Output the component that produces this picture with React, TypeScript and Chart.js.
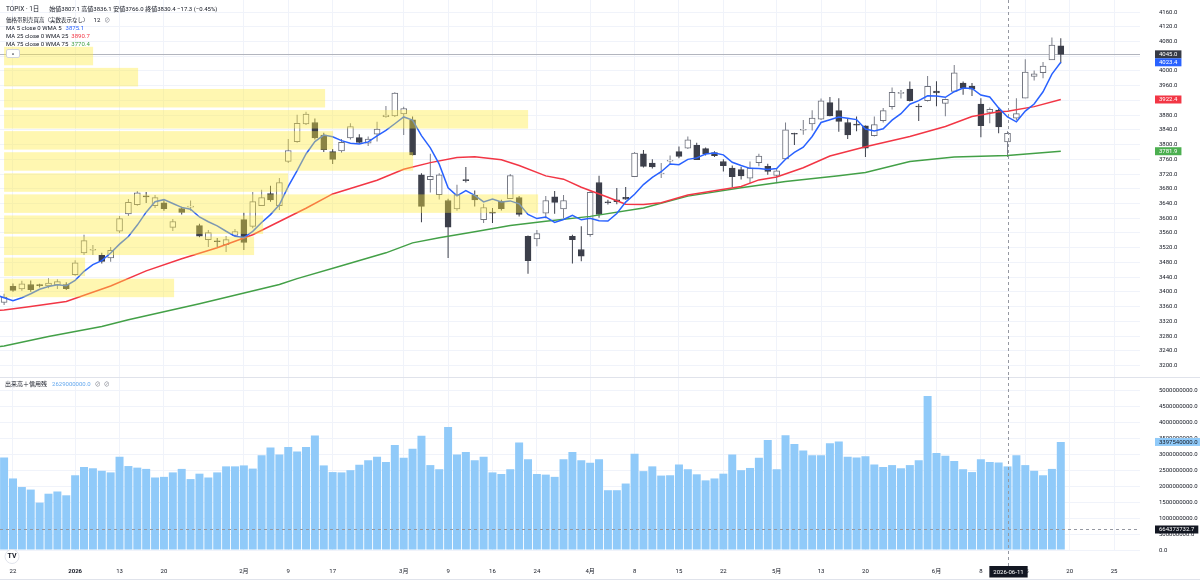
import React, { useEffect, useRef } from "react";
import { Chart, registerables } from "chart.js";

Chart.register(...registerables);

const FONT = 'Roboto, "Noto Sans CJK JP", "DejaVu Sans", sans-serif';
const TEXT = "#131722";
const GRID = "#f0f3fa";

// ---------- data ----------
const SYMBOL = "TOPIX";
const INTERVAL = "1日";

// closes of the five sessions before the first visible bar (for the MA 5)
const PRE_CLOSE = [3426, 3444, 3382, 3351, 3357];

const OPEN = [
  3371, 3415, 3408, 3420, 3418, 3416, 3419, 3420, 3447, 3506,
  3513, 3499, 3492, 3565, 3612, 3637, 3660, 3634, 3642, 3575,
  3626, 3630, 3580, 3542, 3538, 3528, 3553, 3596, 3578, 3634,
  3667, 3634, 3754, 3808, 3856, 3860, 3826, 3781, 3783, 3818,
  3819, 3804, 3828, 3876, 3878, 3883, 3867, 3718, 3705, 3664,
  3648, 3625, 3703, 3662, 3596, 3615, 3646, 3653, 3656, 3551,
  3544, 3614, 3658, 3625, 3551, 3515, 3555, 3697, 3644, 3650,
  3657, 3713, 3775, 3750, 3720, 3755, 3781, 3790, 3798, 3789,
  3778, 3754, 3736, 3732, 3709, 3751, 3741, 3716, 3761, 3830,
  3839, 3856, 3869, 3914, 3892, 3860, 3855, 3851, 3824, 3865,
  3903, 3939, 3951, 3904, 3919, 3945, 3912, 3944, 3967, 3959,
  3910, 3887, 3894, 3807.1, 3872, 3926, 3985, 3995, 4030, 4068,
];
const HIGH = [
  3395, 3423, 3430, 3431, 3422, 3437, 3434, 3426, 3486, 3555,
  3527, 3506, 3522, 3606, 3652, 3674, 3671, 3663, 3650, 3598,
  3631, 3648, 3585, 3568, 3546, 3552, 3571, 3615, 3671, 3677,
  3688, 3709, 3815, 3881, 3889, 3871, 3832, 3788, 3815, 3858,
  3828, 3822, 3862, 3905, 3942, 3903, 3876, 3722, 3775, 3722,
  3653, 3691, 3739, 3675, 3639, 3628, 3650, 3720, 3660, 3553,
  3568, 3660, 3674, 3663, 3555, 3578, 3673, 3715, 3650, 3682,
  3685, 3780, 3785, 3760, 3750, 3770, 3795, 3822, 3805, 3792,
  3782, 3760, 3743, 3740, 3754, 3775, 3748, 3736, 3860, 3832,
  3867, 3893, 3925, 3929, 3926, 3870, 3876, 3852, 3876, 3899,
  3955, 3948, 3971, 3911, 3986, 3972, 3925, 4016, 3971, 3967,
  3926, 3901, 3898, 3836.1, 3926, 4032, 4001, 4024, 4091, 4089,
];
const LOW = [
  3364, 3400, 3403, 3400, 3412, 3410, 3408, 3405, 3444, 3500,
  3500, 3477, 3482, 3560, 3606, 3634, 3641, 3628, 3620, 3565,
  3610, 3620, 3548, 3522, 3522, 3508, 3552, 3514, 3573, 3633,
  3645, 3622, 3750, 3805, 3853, 3814, 3780, 3747, 3778, 3814,
  3802, 3796, 3808, 3873, 3875, 3826, 3770, 3589, 3670, 3651,
  3492, 3620, 3697, 3632, 3587, 3587, 3621, 3653, 3605, 3449,
  3524, 3600, 3612, 3600, 3477, 3483, 3550, 3601, 3637, 3638,
  3650, 3712, 3738, 3735, 3709, 3746, 3763, 3788, 3758, 3770,
  3766, 3727, 3685, 3705, 3695, 3741, 3718, 3695, 3760, 3799,
  3827, 3838, 3867, 3877, 3835, 3815, 3836, 3766, 3822, 3860,
  3895, 3925, 3917, 3864, 3917, 3904, 3877, 3944, 3935, 3932,
  3820, 3858, 3831, 3766.0, 3867, 3926, 3974, 3980, 4030, 4021,
];
const CLOSE = [
  3386, 3404, 3422, 3406, 3417, 3424, 3428, 3409, 3479, 3539,
  3514, 3483, 3513, 3599, 3643, 3669, 3658, 3656, 3626, 3591,
  3616, 3633, 3551, 3561, 3536, 3542, 3564, 3534, 3645, 3656,
  3650, 3697, 3784, 3858, 3883, 3818, 3786, 3760, 3806, 3849,
  3806, 3815, 3842, 3880, 3940, 3898, 3772, 3632, 3714, 3718,
  3576, 3664, 3702, 3650, 3629, 3614, 3626, 3716, 3610, 3485,
  3558, 3648, 3643, 3648, 3542, 3497, 3670, 3610, 3642, 3645,
  3652, 3777, 3741, 3739, 3722, 3757, 3768, 3813, 3759, 3775,
  3770, 3743, 3713, 3715, 3736, 3769, 3727, 3729, 3840, 3828,
  3841, 3872, 3919, 3878, 3863, 3826, 3853, 3790, 3854, 3892,
  3942, 3941, 3919, 3902, 3958, 3940, 3923, 3995, 3953, 3950.4,
  3851, 3896, 3847.7, 3830.4, 3884, 3997, 3992, 4013, 4070, 4045,
];

// 出来高＋信用残, in billions
const VOLUME_BILLION = [
  2.91, 2.25, 1.98, 1.9, 1.49, 1.77, 1.84, 1.72, 2.35, 2.61,
  2.57, 2.49, 2.44, 2.93, 2.64, 2.59, 2.55, 2.28, 2.3, 2.44,
  2.55, 2.23, 2.4, 2.28, 2.44, 2.63, 2.63, 2.66, 2.56, 2.98,
  3.22, 3.0, 3.24, 3.1, 3.24, 3.6, 2.66, 2.45, 2.44, 2.51,
  2.68, 2.82, 2.93, 2.77, 3.3, 2.9, 3.18, 3.59, 2.67, 2.54,
  3.87, 3.0, 3.08, 2.82, 2.93, 2.44, 2.39, 2.54, 3.38, 2.85,
  2.39, 2.37, 2.3, 2.85, 3.08, 2.82, 2.74, 2.85, 1.88, 1.88,
  2.09, 3.03, 2.48, 2.63, 2.34, 2.35, 2.69, 2.54, 2.38, 2.19,
  2.25, 2.4, 3.0, 2.51, 2.58, 2.9, 3.46, 2.54, 3.61, 3.33,
  3.13, 2.98, 2.98, 3.36, 3.41, 2.93, 2.91, 2.95, 2.69, 2.61,
  2.67, 2.57, 2.67, 2.82, 4.84, 3.05, 2.96, 2.8, 2.54, 2.45,
  2.85, 2.77, 2.75, 2.629, 2.98, 2.67, 2.49, 2.35, 2.55, 3.39754,
];

const MA25_INDEX = [-1, 0, 3, 7, 12, 16, 20, 24, 28, 31, 34, 37, 40, 42, 45, 48, 51, 53, 56, 58, 61, 63, 65, 68, 70, 72, 74, 77, 83, 85, 87, 90, 93, 97, 102, 106, 109, 112, 113, 116, 119];
const MA25_VALUE = [3349, 3351, 3360, 3374, 3416, 3457, 3490, 3520, 3555, 3591, 3627, 3666, 3688, 3703, 3733, 3751, 3765, 3767, 3759, 3743, 3715, 3706, 3684, 3657, 3638, 3637, 3642, 3663, 3686, 3704, 3712, 3737, 3769, 3794, 3822, 3849, 3876, 3889, 3890.7, 3903, 3922.4];

const MA75_INDEX = [-1, 0, 5, 11, 14, 22, 31, 33, 38, 43, 46, 49, 53, 57, 61, 66, 72, 77, 83, 88, 94, 97, 102, 107, 113, 119];
const MA75_VALUE = [3250, 3253, 3279, 3306, 3324, 3368, 3420, 3436, 3471, 3506, 3533, 3547, 3563, 3580, 3592, 3605, 3628, 3660, 3683, 3700, 3715, 3724, 3754, 3766, 3770.4, 3781.9];

// 価格帯別売買高: 12 rows from the lowest price bin to the highest (relative volume)
const PROFILE_LOW = 3382;
const PROFILE_HIGH = 4069;
const PROFILE_VOLUME = [17.0, 8.1, 25.0, 25.9, 53.4, 28.4, 40.9, 32.9, 52.4, 32.1, 13.4, 8.9];

const X_TICK_INDEX = [1, 8, 13, 18, 27, 32, 37, 45, 50, 55, 60, 66, 71, 76, 81, 87, 92, 97, 105, 110, 115, 120, 125];
const X_TICK_LABEL = ["22", "2026", "13", "20", "2月", "9", "17", "3月", "9", "16", "24", "4月", "8", "15", "22", "5月", "13", "20", "6月", "8", "15", "20", "25"];

const PRICE_TICK_MIN = 3200;
const PRICE_TICK_MAX = 4160;
const PRICE_TICK_STEP = 40;
const VOLUME_TICK_MAX = 5000000000;
const VOLUME_TICK_STEP = 500000000;

const CROSS_INDEX = 113;
const CROSS_DATE = "2026-06-11";
const CROSS_VOLUME = 664373732.7;

// ---------- derived ----------
const ALL_CLOSE = [...PRE_CLOSE, ...CLOSE];
const MA5: { x: number; y: number }[] = [];
for (let i = -1; i < CLOSE.length; i++) {
  const end = i + PRE_CLOSE.length;
  const w = ALL_CLOSE.slice(end - 4, end + 1);
  MA5.push({ x: i, y: w.reduce((a, b) => a + b, 0) / w.length });
}
const valueAt = (idx: number[], val: number[], i: number) => val[idx.indexOf(i)];
const ma5At = (i: number) => MA5.find((p) => p.x === i)!.y;

// ---------- layout ----------
const X_MIN = -0.462;
const X_MAX = 127.92;
const PRICE_MIN = 3168.8;
const PRICE_MAX = 4192.6;
const VOL_MIN = -31400000;
const VOL_MAX = 5440000000;
const PRICE_H = 377;
const VOL_H = 205;
const AXIS_W = 60;

function labelBox(ctx: CanvasRenderingContext2D, text: string, left: number, cy: number, bg: string, fg: string, h = 8) {
  ctx.save();
  ctx.font = `6px ${FONT}`;
  const w = ctx.measureText(text).width + 8;
  ctx.fillStyle = bg;
  ctx.fillRect(left, cy - h / 2, w, h);
  ctx.fillStyle = fg;
  ctx.textAlign = "left";
  ctx.textBaseline = "middle";
  ctx.fillText(text, left + 4, cy + 0.3);
  ctx.restore();
}

function dashedLine(ctx: CanvasRenderingContext2D, x1: number, y1: number, x2: number, y2: number) {
  ctx.save();
  ctx.strokeStyle = "#9598a1";
  ctx.lineWidth = 1;
  ctx.setLineDash([3, 3]);
  ctx.beginPath();
  ctx.moveTo(x1, y1);
  ctx.lineTo(x2, y2);
  ctx.stroke();
  ctx.restore();
}

const fitY = (a: any) => {
  a.width = AXIS_W;
  a.paddingTop = 0;
  a.paddingBottom = 0;
};

const pricePlugin = {
  id: "priceOverlay",
  beforeDatasetsDraw(chart: any) {
    const { ctx, chartArea, scales } = chart;
    const y = Math.round(scales.y.getPixelForValue(CLOSE[CLOSE.length - 1])) + 0.5;
    ctx.save();
    ctx.strokeStyle = "#b2b5be";
    ctx.lineWidth = 1;
    ctx.beginPath();
    ctx.moveTo(chartArea.left, y);
    ctx.lineTo(chartArea.right, y);
    ctx.stroke();
    ctx.restore();
  },
  afterDatasetsDraw(chart: any) {
    const { ctx, scales } = chart;
    const x0 = scales.x.getPixelForValue(0);
    const xp = scales.xp;
    const binH = (PROFILE_HIGH - PROFILE_LOW) / PROFILE_VOLUME.length;
    ctx.save();
    ctx.fillStyle = "rgba(255, 235, 59, 0.4)";
    PROFILE_VOLUME.forEach((v, k) => {
      const lo = PROFILE_LOW + k * binH;
      const hi = lo + binH;
      const yTop = scales.y.getPixelForValue(hi) + 1.3;
      const yBot = scales.y.getPixelForValue(lo) - 1.3;
      const w = xp.getPixelForValue(v) - xp.getPixelForValue(0);
      ctx.fillRect(x0, yTop, w, yBot - yTop);
    });
    ctx.restore();
  },
  afterDraw(chart: any) {
    const { ctx, chartArea, scales } = chart;
    const cx = Math.round(scales.x.getPixelForValue(CROSS_INDEX)) + 0.5;
    dashedLine(ctx, cx, 0, cx, chart.height);
    const left = chartArea.right + 15;
    const n = CLOSE.length - 1;
    const boxes: [number, string, string][] = [
      [CLOSE[n], "#363a45", "#ffffff"],
      [ma5At(n), "#2962ff", "#ffffff"],
      [valueAt(MA25_INDEX, MA25_VALUE, n), "#f23645", "#ffffff"],
      [valueAt(MA75_INDEX, MA75_VALUE, n), "#4caf50", "#ffffff"],
    ];
    boxes.forEach(([v, bg, fg]) => labelBox(ctx, v.toFixed(1), left, scales.y.getPixelForValue(v), bg, fg));
  },
};

const volPlugin = {
  id: "volOverlay",
  afterDraw(chart: any) {
    const { ctx, chartArea, scales, width } = chart;
    ctx.save();
    ctx.strokeStyle = "#e0e3eb";
    ctx.lineWidth = 1;
    ctx.beginPath();
    ctx.moveTo(0, 0.5);
    ctx.lineTo(width, 0.5);
    ctx.moveTo(0, 202.5);
    ctx.lineTo(width, 202.5);
    ctx.stroke();
    ctx.restore();

    const hy = Math.round(scales.y.getPixelForValue(CROSS_VOLUME)) + 0.5;
    dashedLine(ctx, chartArea.left, hy, chartArea.right, hy);
    const cx = Math.round(scales.x.getPixelForValue(CROSS_INDEX)) + 0.5;
    dashedLine(ctx, cx, 0, cx, 189);

    const left = chartArea.right + 15;
    const last = VOLUME_BILLION[VOLUME_BILLION.length - 1] * 1e9;
    labelBox(ctx, last.toFixed(1), left, scales.y.getPixelForValue(last), "#90caf9", TEXT);
    labelBox(ctx, CROSS_VOLUME.toFixed(1), left, hy, "#131722", "#ffffff");

    // date label on the time axis
    ctx.save();
    ctx.font = `6px ${FONT}`;
    const tw = ctx.measureText(CROSS_DATE).width + 8;
    ctx.fillStyle = "#131722";
    ctx.fillRect(cx - tw / 2, 189, tw, 11.5);
    ctx.fillStyle = "#ffffff";
    ctx.textAlign = "center";
    ctx.textBaseline = "middle";
    ctx.fillText(CROSS_DATE, cx, 195);
    ctx.restore();

    // TV logo
    ctx.save();
    ctx.beginPath();
    ctx.arc(12, 179.5, 7, 0, Math.PI * 2);
    ctx.fillStyle = "#ffffff";
    ctx.fill();
    ctx.strokeStyle = "#e0e3eb";
    ctx.stroke();
    ctx.fillStyle = "#131722";
    ctx.font = `bold 7px ${FONT}`;
    ctx.textAlign = "center";
    ctx.textBaseline = "middle";
    ctx.fillText("TV", 12, 179.5);
    ctx.restore();
  },
};

const xTickBuild = (a: any) => {
  a.ticks = X_TICK_INDEX.map((v) => ({ value: v }));
};
const xLabel = (v: number) => {
  const k = X_TICK_INDEX.indexOf(v);
  return k >= 0 ? X_TICK_LABEL[k] : "";
};

export default function App() {
  const priceRef = useRef<HTMLCanvasElement>(null);
  const volRef = useRef<HTMLCanvasElement>(null);

  useEffect(() => {
    const idx = CLOSE.map((_, i) => i);
    const isUp = idx.map((i) => CLOSE[i] >= OPEN[i]);

    const priceChart = new Chart(priceRef.current as HTMLCanvasElement, {
      type: "bar",
      data: {
        datasets: [
          { type: "line", label: "MA5", data: MA5, borderColor: "#2962ff", borderWidth: 1.5, pointRadius: 0, tension: 0, order: 0, xAxisID: "x", yAxisID: "y" },
          { type: "line", label: "MA25", data: MA25_INDEX.map((x, k) => ({ x, y: MA25_VALUE[k] })), borderColor: "#f23645", borderWidth: 1.5, pointRadius: 0, tension: 0, order: 0, xAxisID: "x", yAxisID: "y" },
          { type: "line", label: "MA75", data: MA75_INDEX.map((x, k) => ({ x, y: MA75_VALUE[k] })), borderColor: "#43a047", borderWidth: 1.5, pointRadius: 0, tension: 0, order: 0, xAxisID: "x", yAxisID: "y" },
          {
            type: "bar", label: "body", data: idx.map((i) => ({ x: i, y: [OPEN[i], CLOSE[i]] })),
            backgroundColor: idx.map((i) => (isUp[i] ? "#ffffff" : "#3c3f4a")),
            borderColor: idx.map((i) => (isUp[i] ? "#6e717c" : "#3c3f4a")),
            borderWidth: 1, borderSkipped: false, barThickness: 6, grouped: false, minBarLength: 1, order: 1, xAxisID: "x", yAxisID: "y",
          },
          {
            type: "bar", label: "wick", data: idx.map((i) => ({ x: i, y: [LOW[i], HIGH[i]] })),
            backgroundColor: idx.map((i) => (isUp[i] ? "#7b7e89" : "#3c3f4a")),
            borderWidth: 0, barThickness: 1, grouped: false, inflateAmount: 0, order: 2, xAxisID: "x", yAxisID: "y",
          },
        ] as any,
      },
      options: {
        animation: false,
        responsive: false,
        maintainAspectRatio: false,
        events: [],
        layout: { padding: 0, autoPadding: false },
        plugins: { legend: { display: false }, tooltip: { enabled: false } },
        scales: {
          x: {
            type: "linear", min: X_MIN, max: X_MAX, offset: false,
            grid: { color: GRID, drawTicks: false, offset: false },
            border: { display: false },
            ticks: { display: false, autoSkip: false },
            afterBuildTicks: xTickBuild,
            afterFit: (a: any) => { a.height = 0; a.paddingLeft = 0; a.paddingRight = 0; },
          },
          y: {
            type: "linear", position: "right", min: PRICE_MIN, max: PRICE_MAX, beginAtZero: false,
            grid: { color: GRID, drawTicks: false },
            border: { display: false },
            ticks: { autoSkip: false, padding: 19, color: TEXT, font: { size: 6, family: FONT }, callback: (v: any) => Number(v).toFixed(1) },
            afterBuildTicks: (a: any) => {
              const t = [];
              for (let v = PRICE_TICK_MIN; v <= PRICE_TICK_MAX; v += PRICE_TICK_STEP) t.push({ value: v });
              a.ticks = t;
            },
            afterFit: fitY,
          },
          xp: { type: "linear", display: false, min: 0, max: 114, offset: false },
        } as any,
      },
      plugins: [pricePlugin],
    } as any);

    const volChart = new Chart(volRef.current as HTMLCanvasElement, {
      type: "bar",
      data: {
        datasets: [
          {
            type: "bar", label: "volume", data: idx.map((i) => ({ x: i, y: VOLUME_BILLION[i] * 1e9 })),
            backgroundColor: "#90caf9", borderWidth: 0, barPercentage: 0.9, categoryPercentage: 1, xAxisID: "x", yAxisID: "y",
          },
        ] as any,
      },
      options: {
        animation: false,
        responsive: false,
        maintainAspectRatio: false,
        events: [],
        layout: { padding: 0, autoPadding: false },
        plugins: { legend: { display: false }, tooltip: { enabled: false } },
        scales: {
          x: {
            type: "linear", min: X_MIN, max: X_MAX, offset: false,
            grid: { color: GRID, drawTicks: false, offset: false },
            border: { display: false },
            ticks: {
              autoSkip: false, maxRotation: 0, padding: 17, color: TEXT,
              font: (c: any) => ({ size: 6, family: FONT, weight: c.tick && xLabel(c.tick.value) === "2026" ? "bold" : "normal" }),
              callback: (v: any) => xLabel(Number(v)),
            },
            afterBuildTicks: xTickBuild,
            afterFit: (a: any) => { a.height = 31; a.paddingLeft = 0; a.paddingRight = 0; },
          },
          y: {
            type: "linear", position: "right", min: VOL_MIN, max: VOL_MAX, beginAtZero: false,
            grid: { color: GRID, drawTicks: false },
            border: { display: false },
            ticks: { autoSkip: false, padding: 19, color: TEXT, font: { size: 6, family: FONT }, callback: (v: any) => Number(v).toFixed(1) },
            afterBuildTicks: (a: any) => {
              const t = [];
              for (let v = 0; v <= VOLUME_TICK_MAX; v += VOLUME_TICK_STEP) t.push({ value: v });
              a.ticks = t;
            },
            afterFit: fitY,
          },
        } as any,
      },
      plugins: [volPlugin],
    } as any);

    return () => {
      priceChart.destroy();
      volChart.destroy();
    };
  }, []);

  const c = CROSS_INDEX;
  const chg = CLOSE[c] - CLOSE[c - 1];
  const pct = (chg / CLOSE[c - 1]) * 100;
  const signed = (v: number, d: number) => (v < 0 ? "−" : "+") + Math.abs(v).toFixed(d);
  const ohlc = `始値${OPEN[c].toFixed(1)} 高値${HIGH[c].toFixed(1)} 安値${LOW[c].toFixed(1)} 終値${CLOSE[c].toFixed(1)} ${signed(chg, 1)} (${signed(pct, 2)}%)`;

  const base: React.CSSProperties = { position: "absolute", left: 6, fontFamily: FONT, fontSize: 6, lineHeight: "8px", color: TEXT, whiteSpace: "nowrap" };
  const icon: React.CSSProperties = { color: "#787b86", marginLeft: 4 };

  return (
    <div style={{ position: "fixed", left: 0, top: 0, width: 1200, height: 582, background: "#ffffff", overflow: "hidden" }}>
      <canvas ref={priceRef} width={1200} height={PRICE_H} style={{ position: "absolute", left: 0, top: 0, width: 1200, height: PRICE_H }} />
      <canvas ref={volRef} width={1200} height={VOL_H} style={{ position: "absolute", left: 0, top: PRICE_H, width: 1200, height: VOL_H }} />

      <div style={{ ...base, top: 5, fontSize: 6.5 }}>
        <span>{SYMBOL} · {INTERVAL}</span>
        <span style={{ marginLeft: 10, fontSize: 6 }}>{ohlc}</span>
      </div>
      <div style={{ ...base, top: 16 }}>
        <span style={{ fontSize: 5.5 }}>価格帯別売買高（実数表示なし）</span>
        <span style={{ marginLeft: 5 }}>{PROFILE_VOLUME.length}</span>
        <span style={icon}>⊘</span>
      </div>
      <div style={{ ...base, top: 24.3 }}>
        <span>MA 5 close 0 WMA 5</span>
        <span style={{ marginLeft: 4, color: "#2962ff" }}>{ma5At(c).toFixed(1)}</span>
      </div>
      <div style={{ ...base, top: 32 }}>
        <span>MA 25 close 0 WMA 25</span>
        <span style={{ marginLeft: 3, color: "#f23645" }}>{valueAt(MA25_INDEX, MA25_VALUE, c).toFixed(1)}</span>
      </div>
      <div style={{ ...base, top: 39.5 }}>
        <span>MA 75 close 0 WMA 75</span>
        <span style={{ marginLeft: 3, color: "#43a047" }}>{valueAt(MA75_INDEX, MA75_VALUE, c).toFixed(1)}</span>
      </div>
      <div style={{ position: "absolute", left: 6, top: 49, width: 12, height: 7, border: "1px solid #d1d4dc", borderRadius: 2, background: "#ffffff", fontFamily: FONT, fontSize: 6, lineHeight: "9px", textAlign: "center", color: TEXT }}>^</div>

      <div style={{ ...base, left: 5, top: 380.3 }}>
        <span>出来高＋信用残</span>
        <span style={{ marginLeft: 5, color: "#64a8ee" }}>{(VOLUME_BILLION[c] * 1e9).toFixed(1)}</span>
        <span style={icon}>⊘</span>
        <span style={{ ...icon, marginLeft: 3 }}>⊘</span>
      </div>
    </div>
  );
}
